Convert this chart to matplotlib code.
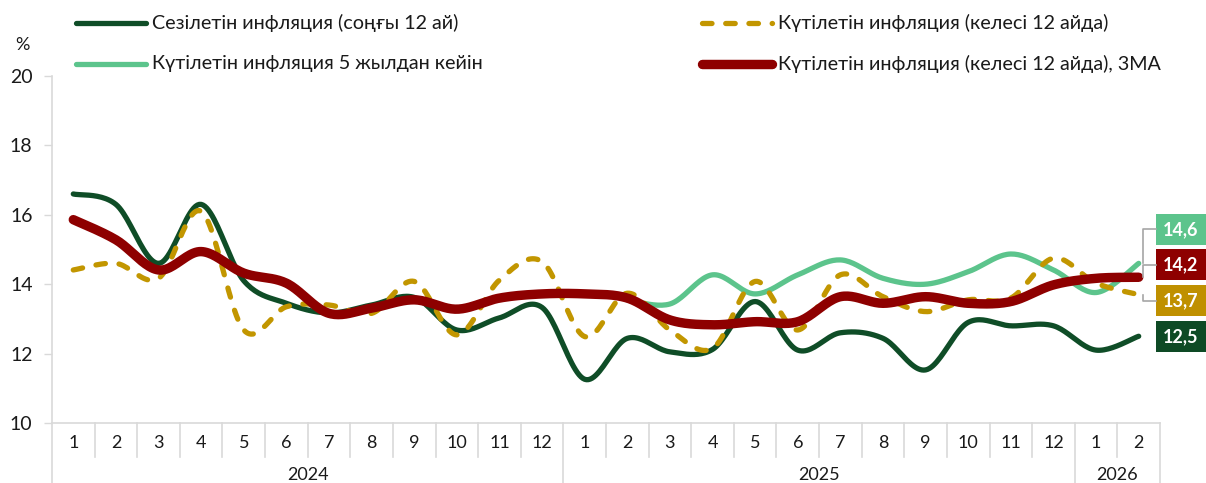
import numpy as np
import matplotlib
matplotlib.use("Agg")
import matplotlib.pyplot as plt
from matplotlib.lines import Line2D
from matplotlib.patches import Rectangle

plt.rcParams['font.family'] = ['Lato', 'DejaVu Sans']

# ---------------- data ----------------
months = ["1", "2", "3", "4", "5", "6", "7", "8", "9", "10", "11", "12",
          "1", "2", "3", "4", "5", "6", "7", "8", "9", "10", "11", "12",
          "1", "2"]
years = ["2024", "2025", "2026"]
year_counts = [12, 12, 2]

perceived = [16.6, 16.3, 14.6, 16.3, 14.1, 13.45, 13.17, 13.4, 13.62, 12.68, 13.03, 13.33,
             11.26, 12.44, 12.05, 12.12, 13.5, 12.1, 12.6, 12.44, 11.53, 12.9, 12.8, 12.8,
             12.1, 12.5]
expected_12m = [14.41, 14.6, 14.17, 16.1, 12.68, 13.35, 13.4, 13.16, 14.08, 12.54, 14.12, 14.65,
                12.49, 13.74, 12.68, 12.15, 14.08, 12.68, 14.27, 13.64, 13.21, 13.55, 13.6, 14.75,
                14.03, 13.7]
expected_5y_start = 13
expected_5y = [13.55, 13.43, 14.27, 13.72, 14.27, 14.7, 14.17, 14.0, 14.36, 14.87, 14.41, 13.76, 14.6]
expected_3ma = [15.86, 15.28, 14.41, 14.94, 14.32, 14.03, 13.16, 13.31, 13.55, 13.28, 13.6, 13.72,
                13.72, 13.6, 12.97, 12.83, 12.92, 12.92, 13.64, 13.45, 13.64, 13.45, 13.5, 13.98,
                14.17, 14.2]

names = ["Сезілетін инфляция (соңғы 12 ай)",
         "Күтілетін инфляция (келесі 12 айда)",
         "Күтілетін инфляция 5 жылдан кейін",
         "Күтілетін инфляция (келесі 12 айда), 3МА"]
end_labels = ["14,6", "14,2", "13,7", "12,5"]

C_DARK = "#0F4D27"
C_LIGHT = "#5CC48C"
C_GOLD = "#C29600"
C_RED = "#8E0000"
C_GRID = "#D9D9D9"
C_TXT = "#1a1a1a"


def smooth(xs, ys, n=24):
    """Catmull-Rom (Excel-like) smoothing through the given points."""
    xs = np.asarray(xs, float)
    ys = np.asarray(ys, float)
    px = np.concatenate([[xs[0]], xs, [xs[-1]]])
    py = np.concatenate([[ys[0]], ys, [ys[-1]]])
    outx, outy = [], []
    t = np.linspace(0, 1, n)
    for i in range(1, len(px) - 2):
        p0 = np.array([px[i], py[i]])
        p3 = np.array([px[i + 1], py[i + 1]])
        p1 = p0 + (np.array([px[i + 1], py[i + 1]]) - np.array([px[i - 1], py[i - 1]])) / 6
        p2 = p3 - (np.array([px[i + 2], py[i + 2]]) - np.array([px[i], py[i]])) / 6
        b = ((1 - t) ** 3)[:, None] * p0 + (3 * (1 - t) ** 2 * t)[:, None] * p1 + \
            (3 * (1 - t) * t ** 2)[:, None] * p2 + (t ** 3)[:, None] * p3
        outx.extend(b[:, 0]); outy.extend(b[:, 1])
    return np.array(outx), np.array(outy)


W, H = 1206, 483
fig = plt.figure(figsize=(W / 100, H / 100), dpi=100)
L, R, T, B = 52, 1160, 76, 423
ax = fig.add_axes([L / W, 1 - B / H, (R - L) / W, (B - T) / H])

x = np.arange(len(months))
x5 = np.arange(expected_5y_start, expected_5y_start + len(expected_5y))
DASH = (0, (1.8, 2.6))

sx, sy = smooth(x5, expected_5y)
ax.plot(sx, sy, color=C_LIGHT, lw=3.8, solid_capstyle='round', zorder=2)
sx, sy = smooth(x, perceived)
ax.plot(sx, sy, color=C_DARK, lw=3.8, solid_capstyle='round', zorder=3)
sx, sy = smooth(x, expected_12m)
ax.plot(sx, sy, color=C_GOLD, lw=3.8, dash_capstyle='round', linestyle=DASH, zorder=4)
sx, sy = smooth(x, expected_3ma)
ax.plot(sx, sy, color=C_RED, lw=6.8, solid_capstyle='round', zorder=5)

ax.set_xlim(-0.5, len(months) - 0.5)
ax.set_ylim(10, 20)
ax.set_yticks([10, 12, 14, 16, 18, 20])
ax.tick_params(axis='y', length=6, width=1, color=C_GRID, pad=8, labelsize=14, labelcolor=C_TXT)
ax.set_xticks(x)
ax.set_xticklabels(months)
ax.tick_params(axis='x', length=0, pad=9, labelsize=13, labelcolor=C_TXT)
for s in ['top', 'right']:
    ax.spines[s].set_visible(False)
for s in ['left', 'bottom']:
    ax.spines[s].set_color(C_GRID)
    ax.spines[s].set_linewidth(1.2)

# category separators
tr = ax.get_xaxis_transform()
axh = B - T
short_y = -(457 - B) / axh
long_y = -(H - B) / axh
bounds = np.cumsum([0] + year_counts) - 0.5
for k in range(len(months) + 1):
    xb = k - 0.5
    ybot = long_y if np.any(np.isclose(bounds, xb)) else short_y
    ax.plot([xb, xb], [0, ybot], transform=tr, color=C_GRID, lw=1.2, clip_on=False, zorder=1)
for i, yr in enumerate(years):
    cx = (bounds[i] + bounds[i + 1]) / 2
    ax.text(cx, -(475 - B) / axh, yr, transform=tr, ha='center', va='center',
            fontsize=13, color=C_TXT)

# % label
fig.text(22 / W, 1 - 45 / H, "%", ha='center', va='center', fontsize=13, color=C_TXT)

# legend (manual)
def px2fig(px, py):
    return px / W, 1 - py / H

leg = [(76, 146, 152, 23, C_DARK, 3.8, '-', names[0]),
       (76, 146, 152, 64, C_LIGHT, 3.8, '-', names[2]),
       (702, 772, 778, 23, C_GOLD, 3.8, DASH, names[1]),
       (702, 772, 778, 64, C_RED, 6.8, '-', names[3])]
for x0, x1, xt, yy, c, lw, ls, lab in leg:
    a, b0 = px2fig(x0, yy)
    a1, _ = px2fig(x1, yy)
    fig.add_artist(Line2D([a, a1], [b0, b0], color=c, lw=lw, linestyle=ls,
                          solid_capstyle='round', dash_capstyle='round'))
    fig.text(*px2fig(xt, yy), lab, ha='left', va='center', fontsize=14.2, color=C_TXT)

# end labels with leader lines
box_cols = [C_LIGHT, C_RED, "#BF9000", "#0E4A25"]
box_cy = [229.5, 264.5, 300.5, 336.5]
last_vals = [expected_5y[-1], expected_3ma[-1], expected_12m[-1], perceived[-1]]
bx0 = 1156
for lab, col, cy, v in zip(end_labels, box_cols, box_cy, last_vals):
    fig.add_artist(Rectangle((bx0 / W, 1 - (cy + 15.5) / H), 60 / W, 31 / H,
                             facecolor=col, edgecolor='none', transform=fig.transFigure))
    fig.text(1181 / W, 1 - cy / H, lab, ha='center', va='center', fontsize=13,
             fontweight='bold', color='white')
    dx, dy = ax.transData.transform((len(months) - 1, v))
    ey = H - dy
    if abs(ey - cy) > 4 and lab != "12,5":
        pts = [(1143, ey), (1143, cy), (bx0, cy)]
        fig.add_artist(Line2D([p[0] / W for p in pts], [1 - p[1] / H for p in pts],
                              color="#A6A6A6", lw=1.2))

fig.savefig("out.png", dpi=100)
